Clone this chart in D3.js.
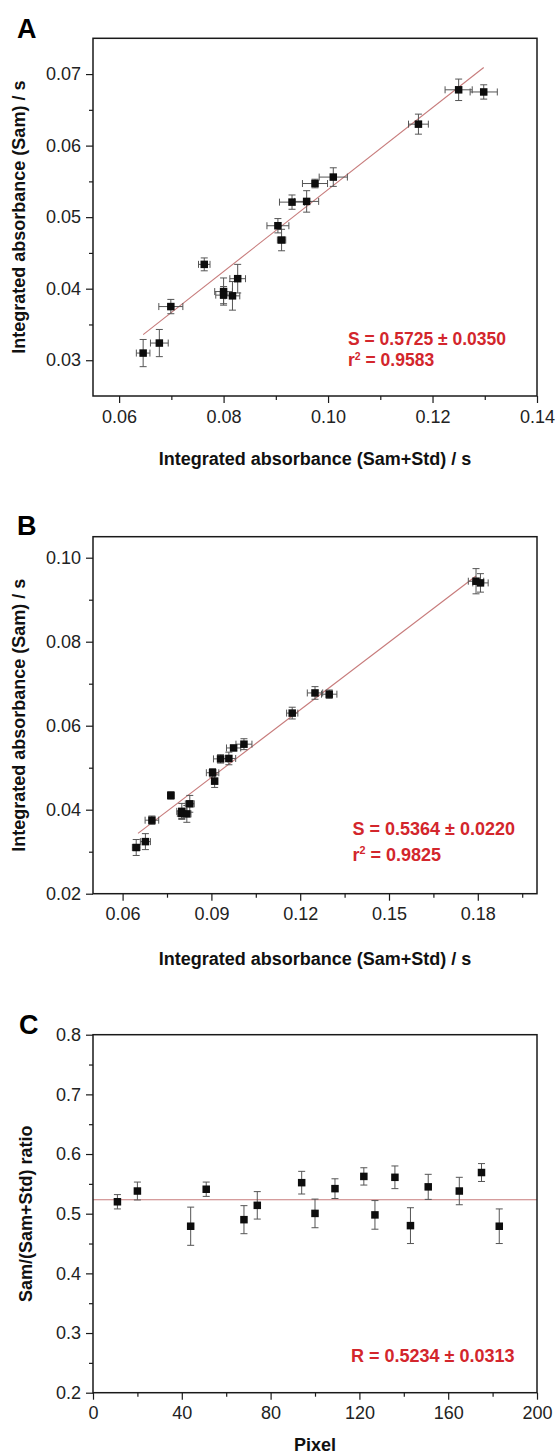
<!DOCTYPE html>
<html><head><meta charset="utf-8">
<script src="https://cdn.jsdelivr.net/npm/d3@7"></script>
<style>
body{margin:0;background:#fff}
svg{display:block}
text{font-family:"Liberation Sans",Arial,Helvetica,sans-serif}
</style>
</head><body>
<svg id="chart" width="557" height="1454"></svg>
<script>
// ---------- Data ----------
// Panels A & B: Integrated absorbance (Sam+Std) vs (Sam)
const sumStd    = [0.0646,0.0677,0.0699,0.0763,0.0800,0.0800,0.0817,0.0827,0.0904,0.0911,0.0931,0.0959,0.0975,0.1010,0.1173,0.1250,0.1298];
const sam       = [0.0310,0.0324,0.0375,0.0434,0.0396,0.0391,0.0390,0.0414,0.0488,0.0468,0.0521,0.0522,0.0547,0.0556,0.0630,0.0678,0.0675];
const sumStdErr = [0.0013,0.0017,0.0023,0.0011,0.0017,0.0015,0.0014,0.0015,0.0021,0.0008,0.0024,0.0023,0.0024,0.0027,0.0019,0.0026,0.0026];
const samErr    = [0.0019,0.0019,0.0010,0.0009,0.0019,0.0012,0.0020,0.0020,0.0010,0.0015,0.0010,0.0015,0.0006,0.0013,0.0014,0.0015,0.0010];
// extra points only in panel B
const sumStdExtra    = [0.1794,0.1809];
const samExtra       = [0.0944,0.0940];
const sumStdErrExtra = [0.0026,0.0026];
const samErrExtra    = [0.0030,0.0022];

// Panel C: ratio per pixel
const pixel    = [11,20,44,51,68,74,94,100,109,122,127,136,143,151,165,175,183];
const ratio    = [0.520,0.538,0.479,0.541,0.490,0.514,0.552,0.5005,0.542,0.5625,0.498,0.561,0.480,0.545,0.538,0.569,0.479];
const ratioErr = [0.012,0.015,0.032,0.012,0.0235,0.023,0.019,0.024,0.0165,0.0145,0.024,0.019,0.030,0.021,0.023,0.015,0.029];

// Fits
const fitA = [0.5725, -0.0034, 0.0646, 0.1298]; // slope, intercept, xStart, xEnd
const fitB = [0.5364, -0.0006, 0.0652, 0.1794];
const meanR = 0.5234;

// Ticks
const aXMajor = [0.06,0.08,0.10,0.12,0.14], aXMinor = [0.07,0.09,0.11,0.13];
const aYMajor = [0.03,0.04,0.05,0.06,0.07], aYMinor = [0.035,0.045,0.055,0.065];
const bXMajor = [0.06,0.09,0.12,0.15,0.18], bXMinor = [0.075,0.105,0.135,0.165,0.195];
const bYMajor = [0.02,0.04,0.06,0.08,0.10], bYMinor = [0.03,0.05,0.07,0.09];
const cXMajor = [0,40,80,120,160,200], cXMinor = [20,60,100,140,180];
const cYMajor = [0.2,0.3,0.4,0.5,0.6,0.7,0.8], cYMinor = [0.25,0.35,0.45,0.55,0.65,0.75];

// ---------- Drawing ----------
const svg = d3.select("#chart");
svg.append("rect").attr("width",557).attr("height",1454).attr("fill","#fff");
const RED = "#d3262c", LINE = "#c77b7b", ERR = "#555", INK = "#1a1a1a";

function panel(o){
  const g = svg.append("g");
  const x = d3.scaleLinear().domain(o.xDomain).range([o.left,o.right]);
  const y = d3.scaleLinear().domain(o.yDomain).range([o.bottom,o.top]);

  // axes
  const ax = d3.axisBottom(x).tickValues(o.xMajor).tickFormat(o.xFmt).tickSize(7).tickPadding(7).tickSizeOuter(0);
  const axm = d3.axisBottom(x).tickValues(o.xMinor).tickFormat("").tickSize(4).tickSizeOuter(0);
  const ay = d3.axisLeft(y).tickValues(o.yMajor).tickFormat(o.yFmt).tickSize(7).tickPadding(5).tickSizeOuter(0);
  const aym = d3.axisLeft(y).tickValues(o.yMinor).tickFormat("").tickSize(4).tickSizeOuter(0);
  [[ax,"bottom"],[axm,"bottom"],[ay,"left"],[aym,"left"]].forEach(([a,s])=>{
    const gg = g.append("g")
      .attr("transform", s==="bottom" ? `translate(0,${o.bottom})` : `translate(${o.left},0)`)
      .call(a);
    gg.select(".domain").remove();
    gg.selectAll("line").attr("stroke",INK).attr("stroke-width",1.2);
    gg.selectAll("text").attr("fill","#222").style("font-size","18px");
  });

  // line(s)
  o.lines(g,x,y);

  // error bars & markers
  const pts = o.points;
  const eb = g.append("g").attr("stroke",ERR).attr("stroke-width",1).attr("fill","none");
  const cap = 3.5;
  pts.forEach(p=>{
    const cx = x(p.x), cy = y(p.y);
    if (p.ye){
      const y1 = y(p.y+p.ye), y2 = y(p.y-p.ye);
      eb.append("line").attr("x1",cx).attr("x2",cx).attr("y1",y1).attr("y2",y2);
      eb.append("line").attr("x1",cx-cap).attr("x2",cx+cap).attr("y1",y1).attr("y2",y1);
      eb.append("line").attr("x1",cx-cap).attr("x2",cx+cap).attr("y1",y2).attr("y2",y2);
    }
    if (p.xe){
      const x1 = x(p.x-p.xe), x2 = x(p.x+p.xe);
      eb.append("line").attr("x1",x1).attr("x2",x2).attr("y1",cy).attr("y2",cy);
      eb.append("line").attr("x1",x1).attr("x2",x1).attr("y1",cy-cap).attr("y2",cy+cap);
      eb.append("line").attr("x1",x2).attr("x2",x2).attr("y1",cy-cap).attr("y2",cy+cap);
    }
  });
  const s = 7.5;
  g.append("g").selectAll("rect").data(pts).join("rect")
    .attr("x",d=>x(d.x)-s/2).attr("y",d=>y(d.y)-s/2)
    .attr("width",s).attr("height",s).attr("fill","#0d0d0d");

  // frame
  g.append("rect").attr("x",o.left).attr("y",o.top)
    .attr("width",o.right-o.left).attr("height",o.bottom-o.top)
    .attr("fill","none").attr("stroke",INK).attr("stroke-width",1.5);

  // titles
  g.append("text").attr("x",o.tagX).attr("y",o.tagY).text(o.tag)
    .style("font-size","27px").style("font-weight","bold").attr("fill","#000");
  g.append("text").attr("transform",`translate(${o.yLabX},${(o.top+o.bottom)/2}) rotate(-90)`)
    .attr("text-anchor","middle").text(o.yLabel)
    .style("font-size","18px").style("font-weight","bold").attr("fill","#111");
  g.append("text").attr("x",(o.left+o.right)/2).attr("y",o.xLabY)
    .attr("text-anchor","middle").text(o.xLabel)
    .style("font-size","18px").style("font-weight","bold").attr("fill","#111");

  // annotation: one text element, one line per tspan group
  const fs = o.note.fs || 18;
  const t = g.append("text")
    .style("font-size",fs+"px").style("font-weight","bold").attr("fill",RED);
  o.note.lines.forEach(line=>{
    line.parts.forEach((pt,k)=>{
      const ts = t.append("tspan").text(pt.t);
      if (k===0) ts.attr("x",o.note.x).attr("y",line.y);
      if (pt.sup) ts.style("font-size",(fs*0.6)+"px").attr("dy",-6.5);
      if (pt.after) ts.attr("dy",6.5);
    });
  });
  return {x,y};
}

const ptsA = sumStd.map((v,i)=>({x:v,y:sam[i],xe:sumStdErr[i],ye:samErr[i]}));
const ptsB = ptsA.concat(sumStdExtra.map((v,i)=>({x:v,y:samExtra[i],xe:sumStdErrExtra[i],ye:samErrExtra[i]})));
const ptsC = pixel.map((v,i)=>({x:v,y:ratio[i],ye:ratioErr[i]}));

function fitLine(f){
  return (g,x,y)=>{
    g.append("line").attr("x1",x(f[2])).attr("y1",y(f[0]*f[2]+f[1]))
      .attr("x2",x(f[3])).attr("y2",y(f[0]*f[3]+f[1]))
      .attr("stroke",LINE).attr("stroke-width",1.1);
  };
}

panel({
  left:93,right:537,top:38.3,bottom:396,
  xDomain:[0.055,0.14], yDomain:[0.025,0.075],
  xMajor:aXMajor,xMinor:aXMinor,yMajor:aYMajor,yMinor:aYMinor,
  xFmt:d3.format(".2f"), yFmt:d3.format(".2f"),
  points:ptsA, lines:fitLine(fitA),
  tag:"A",tagX:17,tagY:37.5,
  yLabel:"Integrated absorbance (Sam) / s", yLabX:24.5,
  xLabel:"Integrated absorbance (Sam+Std) / s", xLabY:465,
  note:{x:348,fs:17.5,lines:[
    {y:344.5,parts:[{t:"S = 0.5725 ± 0.0350"}]},
    {y:366,parts:[{t:"r"},{t:"2",sup:true},{t:" = 0.9583",after:true}]}
  ]}
});

panel({
  left:93,right:537,top:536.7,bottom:893.7,
  xDomain:[0.05,0.2], yDomain:[0.02,0.105],
  xMajor:bXMajor,xMinor:bXMinor,yMajor:bYMajor,yMinor:bYMinor,
  xFmt:d3.format(".2f"), yFmt:d3.format(".2f"),
  points:ptsB, lines:fitLine(fitB),
  tag:"B",tagX:17,tagY:535,
  yLabel:"Integrated absorbance (Sam) / s", yLabX:24.5,
  xLabel:"Integrated absorbance (Sam+Std) / s", xLabY:965,
  note:{x:352.5,lines:[
    {y:835,parts:[{t:"S = 0.5364 ± 0.0220"}]},
    {y:860.7,parts:[{t:"r"},{t:"2",sup:true},{t:" = 0.9825",after:true}]}
  ]}
});

panel({
  left:93,right:537,top:1034.7,bottom:1392.7,
  xDomain:[0,200], yDomain:[0.2,0.8],
  xMajor:cXMajor,xMinor:cXMinor,yMajor:cYMajor,yMinor:cYMinor,
  xFmt:d3.format("d"), yFmt:d3.format(".1f"),
  points:ptsC,
  lines:(g,x,y)=>{
    g.append("line").attr("x1",x(0)).attr("x2",x(200)).attr("y1",y(meanR)).attr("y2",y(meanR))
      .attr("stroke",LINE).attr("stroke-width",1.1);
  },
  tag:"C",tagX:19,tagY:1034,
  yLabel:"Sam/(Sam+Std) ratio", yLabX:32,
  xLabel:"Pixel", xLabY:1450.5,
  note:{x:351,lines:[
    {y:1361.7,parts:[{t:"R = 0.5234 ± 0.0313"}]}
  ]}
});
</script>
</body></html>
